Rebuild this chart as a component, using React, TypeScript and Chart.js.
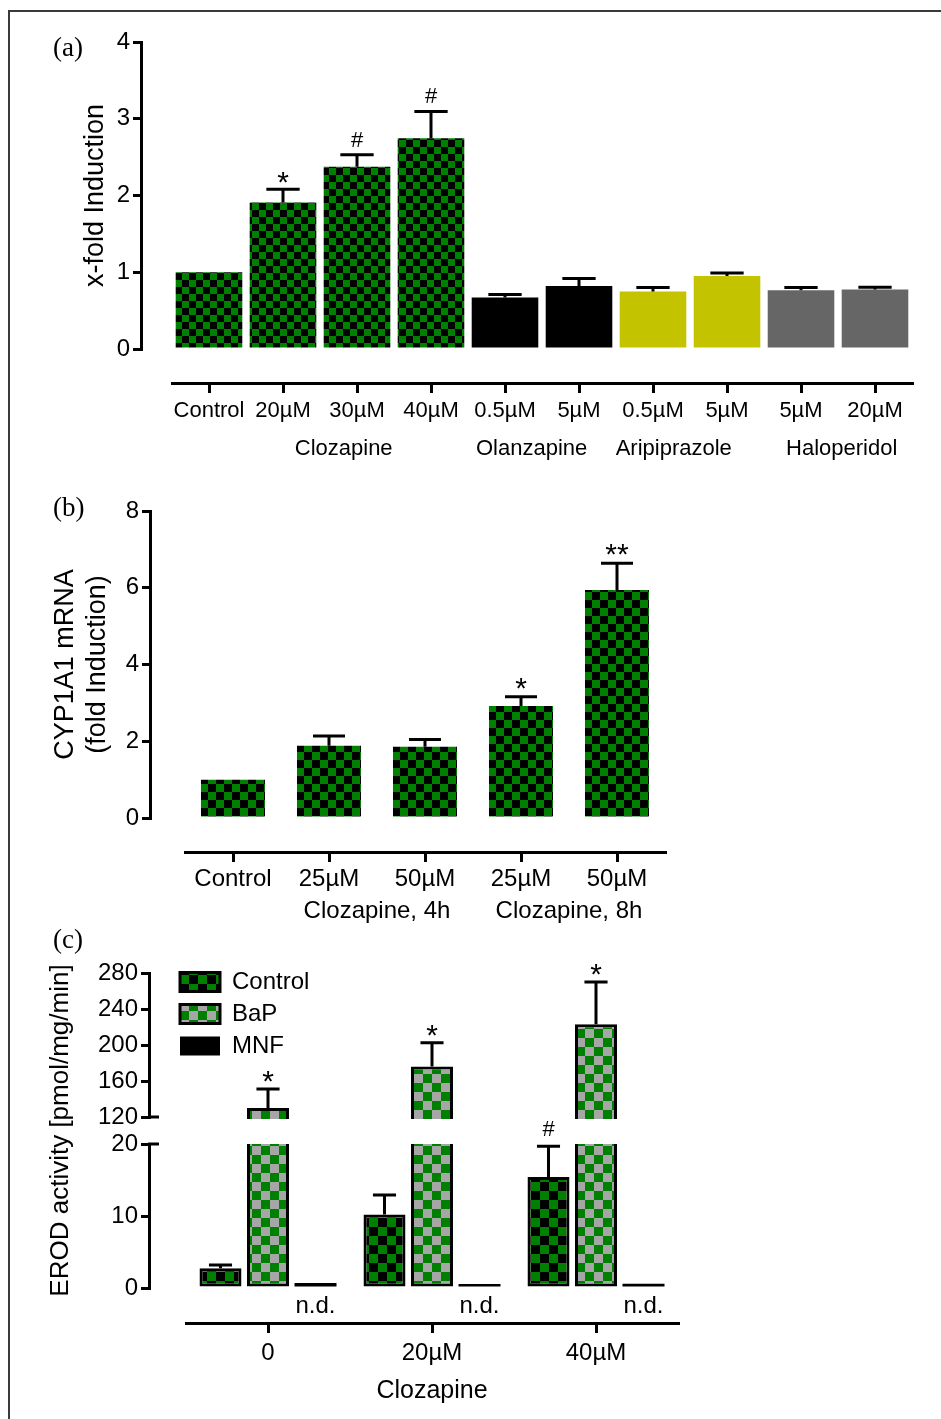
import React, { useEffect, useRef } from 'react';
import { Chart, registerables } from 'chart.js';

Chart.register(...registerables);

const FONT = "'Liberation Sans', Arial, Helvetica, sans-serif";
const BLACK = '#000000';
const GREEN = '#008000';
const OLIVE = '#c3c300';
const GRAY = '#666666';
const LIGHTGRAY = '#a6a6a6';

// ---------- Panel (a) ----------
const aCategories = ['Control', '20µM', '30µM', '40µM', '0.5µM', '5µM', '0.5µM', '5µM', '5µM', '20µM'];
const aValues = [1.0, 1.91, 2.375, 2.745, 0.67, 0.82, 0.75, 0.95, 0.765, 0.775];
const aErrors = [0, 0.17, 0.155, 0.35, 0.04, 0.1, 0.05, 0.04, 0.035, 0.03];
const aMarks = ['', '*', '#', '#', '', '', '', '', '', ''];
const aFillKeys = ['checker', 'checker', 'checker', 'checker', 'black', 'black', 'olive', 'olive', 'gray', 'gray'];
const aGroupLabels = ['Clozapine', 'Olanzapine', 'Aripiprazole', 'Haloperidol'];
const aGroupCenters = [1.82, 4.36, 6.28, 8.55];
const aYTitle = 'x-fold Induction';

// ---------- Panel (b) ----------
const bCategories = ['Control', '25µM', '50µM', '25µM', '50µM'];
const bValues = [1.0, 1.88, 1.855, 2.92, 5.94];
const bErrors = [0, 0.26, 0.19, 0.24, 0.7];
const bMarks = ['', '', '', '*', '**'];
const bGroupLabels = ['Clozapine, 4h', 'Clozapine, 8h'];
const bGroupCenters = [1.5, 3.5];
const bYTitle = ['CYP1A1 mRNA', '(fold Induction)'];

// ---------- Panel (c) ----------
const cCategories = ['0', '20µM', '40µM'];
const cSeries = ['Control', 'BaP', 'MNF'];
const cControl = [2.75, 10.2, 15.4];
const cControlErr = [0.45, 2.7, 4.3];
const cControlMarks = ['', '', '#'];
const cBaP = [130, 176, 223];
const cBaPErr = [21, 26.5, 47];
const cBaPMarks = ['*', '*', '*'];
const cMNF = [0.7, 0.55, 0.6];
const cMNFLabels = ['n.d.', 'n.d.', 'n.d.'];
const cYTitle = 'EROD activity [pmol/mg/min]';
const cXTitle = 'Clozapine';

function checker(back: string, front: string, size: number): CanvasPattern {
  const cv = document.createElement('canvas');
  cv.width = size * 2;
  cv.height = size * 2;
  const g = cv.getContext('2d')!;
  g.fillStyle = back;
  g.fillRect(0, 0, size * 2, size * 2);
  g.fillStyle = front;
  g.fillRect(size, 0, size, size);
  g.fillRect(0, size, size, size);
  return g.createPattern(cv, 'repeat')!;
}

const extrasPlugin: any = {
  id: 'extras',
  beforeDatasetDraw(chart: any, args: any, opts: any) {
    const meta = args.meta;
    const ys = meta.yScale;
    const xs = meta.xScale;
    const ctx = chart.ctx;
    const extra = opts.clipBottom || 0;
    ctx.save();
    ctx.beginPath();
    ctx.rect(xs.left - 2, ys.top, xs.right - xs.left + 4, ys.bottom - ys.top + extra);
    ctx.clip();
  },
  afterDatasetDraw(chart: any) {
    chart.ctx.restore();
  },
  afterLayout(chart: any, _args: any, opts: any) {
    if (opts.legendShift && chart.legend) {
      const lg = chart.legend;
      const w = lg.width;
      const h = lg.height;
      lg.left = chart.chartArea.left + opts.legendShift.x;
      lg.top = chart.chartArea.top + opts.legendShift.y;
      lg.right = lg.left + w;
      lg.bottom = lg.top + h;
    }
  },
  afterDatasetsDraw(chart: any, _args: any, opts: any) {
    const ctx = chart.ctx;
    const capFrac = opts.capFrac;
    ctx.save();
    chart.data.datasets.forEach((ds: any, di: number) => {
      if (!chart.isDatasetVisible(di)) return;
      const meta = chart.getDatasetMeta(di);
      const ys = meta.yScale;
      meta.data.forEach((el: any, i: number) => {
        const v = ds.data[i] as number;
        const x = el.x;
        const w = el.width;
        let topY = ys.getPixelForValue(v);
        const e = ds.errors ? ds.errors[i] : 0;
        if (e) {
          const ey = ys.getPixelForValue(v + e);
          ctx.strokeStyle = BLACK;
          ctx.lineWidth = opts.errWidth;
          ctx.lineCap = 'butt';
          ctx.beginPath();
          ctx.moveTo(x, topY);
          ctx.lineTo(x, ey);
          ctx.moveTo(x - (w * capFrac) / 2, ey);
          ctx.lineTo(x + (w * capFrac) / 2, ey);
          ctx.stroke();
          topY = ey;
        }
        const m = ds.marks ? ds.marks[i] : '';
        if (m) {
          const isHash = m.indexOf('#') >= 0;
          ctx.fillStyle = BLACK;
          ctx.font = `${isHash ? opts.hashSize : opts.starSize}px ${FONT}`;
          ctx.textAlign = 'center';
          ctx.textBaseline = 'alphabetic';
          ctx.fillText(m, x, topY - (isHash ? opts.hashGap : opts.starGap));
        }
        const b = ds.below ? ds.below[i] : '';
        if (b) {
          ctx.fillStyle = BLACK;
          ctx.font = `${opts.belowSize}px ${FONT}`;
          ctx.textAlign = 'center';
          ctx.textBaseline = 'middle';
          ctx.fillText(b, x, ys.bottom + opts.belowOffset);
        }
      });
    });
    if (opts.groupLabels) {
      const xs = chart.scales.x;
      ctx.fillStyle = BLACK;
      ctx.font = `${opts.groupSize}px ${FONT}`;
      ctx.textAlign = 'center';
      ctx.textBaseline = 'middle';
      opts.groupLabels.forEach((t: string, k: number) => {
        ctx.fillText(t, xs.getPixelForValue(opts.groupCenters[k]), xs.top + opts.groupOffset);
      });
    }
    if (opts.breakTicks) {
      ctx.strokeStyle = BLACK;
      ctx.lineWidth = 3;
      opts.breakTicks.forEach((bt: any) => {
        const s = chart.scales[bt.scale];
        const y = s.getPixelForValue(bt.at === 'min' ? s.min : s.max);
        ctx.beginPath();
        ctx.moveTo(s.right - 1, y);
        ctx.lineTo(s.right + opts.breakLen, y);
        ctx.stroke();
      });
    }
    ctx.restore();
  },
};

function hiddenAxis(position: string, weight: number, size: number, extra: any = {}) {
  return {
    type: 'linear',
    axis: position === 'left' ? 'y' : 'x',
    position,
    weight,
    display: true,
    grid: { display: false },
    border: { display: false },
    ticks: { display: false },
    afterFit: (s: any) => {
      if (position === 'left') s.width = size;
      else s.height = size;
    },
    ...extra,
  };
}

function xAxis(height: number, fontSize: number, padding: number, extra: any = {}) {
  return {
    type: 'category',
    axis: 'x',
    position: 'bottom',
    weight: 1,
    offset: true,
    grid: { display: true, drawOnChartArea: false, offset: false, tickLength: 10, lineWidth: 3, color: BLACK },
    border: { display: true, width: 3, color: BLACK },
    ticks: { color: BLACK, font: { size: fontSize, family: FONT }, padding, maxRotation: 0, minRotation: 0, autoSkip: false },
    afterFit: (s: any) => {
      s.height = height;
    },
    ...extra,
  };
}

function yAxis(width: number, min: number, max: number, step: number, fontSize: number, extra: any = {}) {
  return {
    type: 'linear',
    axis: 'y',
    position: 'left',
    weight: 1,
    min,
    max,
    ticks: { stepSize: step, color: BLACK, font: { size: fontSize, family: FONT }, padding: 3, autoSkip: false },
    grid: { display: true, drawOnChartArea: false, tickLength: 8, lineWidth: 3, color: BLACK },
    border: { display: true, width: 3, color: BLACK },
    afterFit: (s: any) => {
      s.width = width;
    },
    ...extra,
  };
}

function configA(): any {
  const fills: Record<string, any> = {
    checker: checker(BLACK, GREEN, 7),
    black: BLACK,
    olive: OLIVE,
    gray: GRAY,
  };
  return {
    type: 'bar',
    data: {
      labels: aCategories,
      datasets: [
        {
          data: aValues,
          backgroundColor: aFillKeys.map((k) => fills[k]),
          borderWidth: 0,
          barPercentage: 0.9,
          categoryPercentage: 1.0,
          xAxisID: 'x',
          yAxisID: 'y',
          errors: aErrors,
          marks: aMarks,
        },
      ],
    },
    options: {
      responsive: false,
      animation: false,
      events: [],
      layout: { padding: { top: 42, right: 29, bottom: 0, left: 0 }, autoPadding: false },
      plugins: {
        legend: { display: false },
        tooltip: { enabled: false },
        extras: {
          capFrac: 0.5,
          errWidth: 3,
          starSize: 30,
          hashSize: 22,
          starGap: -3,
          hashGap: 8,
          groupLabels: aGroupLabels,
          groupCenters: aGroupCenters,
          groupOffset: 66,
          groupSize: 22,
        },
      },
      scales: {
        x: xAxis(87, 22, 5),
        xGap: hiddenAxis('bottom', 0, 34),
        y: yAxis(141, 0, 4, 1, 24, {
          title: { display: true, text: aYTitle, color: BLACK, font: { size: 27, family: FONT }, padding: { top: 79, bottom: 0 } },
        }),
        yGap: hiddenAxis('left', 0, 31),
      },
    },
    plugins: [extrasPlugin],
  };
}

function configB(): any {
  const pat = checker(BLACK, GREEN, 8);
  return {
    type: 'bar',
    data: {
      labels: bCategories,
      datasets: [
        {
          data: bValues,
          backgroundColor: pat,
          borderWidth: 0,
          barPercentage: 0.667,
          categoryPercentage: 1.0,
          xAxisID: 'x',
          yAxisID: 'y',
          errors: bErrors,
          marks: bMarks,
        },
      ],
    },
    options: {
      responsive: false,
      animation: false,
      events: [],
      layout: { padding: { top: 31, right: 276, bottom: 0, left: 0 }, autoPadding: false },
      plugins: {
        legend: { display: false },
        tooltip: { enabled: false },
        extras: {
          capFrac: 0.5,
          errWidth: 3,
          starSize: 30,
          hashSize: 22,
          starGap: -1,
          hashGap: 9,
          groupLabels: bGroupLabels,
          groupCenters: bGroupCenters,
          groupOffset: 59,
          groupSize: 24,
        },
      },
      scales: {
        x: xAxis(88, 24, 3),
        xGap: hiddenAxis('bottom', 0, 34),
        y: yAxis(150, 0, 8, 2, 24, {
          title: { display: true, text: bYTitle, color: BLACK, font: { size: 27, family: FONT, lineHeight: 1.2 }, padding: { top: 49, bottom: 0 } },
        }),
        yGap: hiddenAxis('left', 0, 35),
      },
    },
    plugins: [extrasPlugin],
  };
}

function configC(): any {
  const ctrlPat = checker(BLACK, GREEN, 9);
  const bapPat = checker(LIGHTGRAY, GREEN, 9);
  const common = {
    borderColor: BLACK,
    borderWidth: 3,
    borderSkipped: false,
    barPercentage: 0.884,
    categoryPercentage: 0.869,
    xAxisID: 'x',
    clip: { left: 2, right: 2, top: 0, bottom: 2 },
  };
  return {
    type: 'bar',
    data: {
      labels: cCategories,
      datasets: [
        { ...common, label: cSeries[0], data: cControl, backgroundColor: ctrlPat, yAxisID: 'yBot', stack: 's0', errors: cControlErr, marks: cControlMarks },
        { ...common, label: cSeries[1], data: cBaP, backgroundColor: bapPat, yAxisID: 'yBot', stack: 's1' },
        { ...common, label: cSeries[2], data: cMNF, backgroundColor: BLACK, borderWidth: 0, yAxisID: 'yBot', stack: 's2', below: cMNFLabels },
        { ...common, label: cSeries[1], data: cBaP, backgroundColor: bapPat, yAxisID: 'yTop', stack: 's1', errors: cBaPErr, marks: cBaPMarks, hideInLegend: true },
      ],
    },
    options: {
      responsive: false,
      animation: false,
      events: [],
      layout: { padding: { top: 43, right: 263, bottom: 0, left: 0 }, autoPadding: false },
      plugins: {
        legend: {
          display: true,
          position: 'chartArea',
          align: 'start',
          labels: {
            boxWidth: 40,
            boxHeight: 19,
            padding: 8,
            color: BLACK,
            font: { size: 24, family: FONT },
            filter: (item: any, data: any) => !data.datasets[item.datasetIndex].hideInLegend,
          },
        },
        tooltip: { enabled: false },
        extras: {
          capFrac: 0.55,
          errWidth: 3,
          starSize: 30,
          hashSize: 22,
          starGap: -2,
          hashGap: 10,
          belowSize: 24,
          belowOffset: 18,
          clipBottom: 2,
          breakTicks: [
            { scale: 'yTop', at: 'min' },
            { scale: 'yBot', at: 'max' },
          ],
          breakLen: 10,
          legendShift: { x: -14, y: -11 },
        },
      },
      scales: {
        x: xAxis(96, 24, 6, {
          title: { display: true, text: cXTitle, color: BLACK, font: { size: 25, family: FONT }, padding: { top: 0, bottom: 13 } },
        }),
        xGap: hiddenAxis('bottom', 0, 35),
        yTop: yAxis(149, 120, 280, 40, 24, { weight: 3, stack: 'c', stackWeight: 144 }),
        yBrk: hiddenAxis('left', 2, 149, {
          stack: 'c',
          stackWeight: 27,
          title: { display: true, text: cYTitle, color: BLACK, font: { size: 26, family: FONT }, padding: { top: 45, bottom: 0 } },
        }),
        yBot: yAxis(149, 0, 20, 10, 24, { weight: 1, stack: 'c', stackWeight: 144 }),
        yGap: hiddenAxis('left', 0, 37),
      },
    },
    plugins: [extrasPlugin],
  };
}

const panelLabel: React.CSSProperties = {
  position: 'absolute',
  left: 53,
  fontFamily: "'Liberation Serif', 'Times New Roman', serif",
  fontSize: 27,
  lineHeight: '27px',
  color: '#000',
};

export default function App() {
  const aRef = useRef<HTMLCanvasElement>(null);
  const bRef = useRef<HTMLCanvasElement>(null);
  const cRef = useRef<HTMLCanvasElement>(null);

  useEffect(() => {
    Chart.defaults.font.family = FONT;
    Chart.defaults.color = BLACK;
    const charts = [
      new Chart(aRef.current!, configA()),
      new Chart(bRef.current!, configB()),
      new Chart(cRef.current!, configC()),
    ];
    return () => charts.forEach((c) => c.destroy());
  }, []);

  return (
    <div style={{ position: 'absolute', left: 0, top: 0, width: 941, height: 1419, background: '#fff', overflow: 'hidden' }}>
      <div style={{ position: 'absolute', left: 8, top: 10, width: 940, height: 1420, borderTop: '2px solid #3a3a3a', borderLeft: '2px solid #3a3a3a' }} />
      <canvas ref={aRef} width={941} height={470} style={{ position: 'absolute', left: 0, top: 0, width: 941, height: 470 }} />
      <canvas ref={bRef} width={941} height={460} style={{ position: 'absolute', left: 0, top: 480, width: 941, height: 460 }} />
      <canvas ref={cRef} width={941} height={489} style={{ position: 'absolute', left: 0, top: 930, width: 941, height: 489 }} />
      <span style={{ ...panelLabel, top: 34 }}>(a)</span>
      <span style={{ ...panelLabel, top: 494 }}>(b)</span>
      <span style={{ ...panelLabel, top: 926 }}>(c)</span>
    </div>
  );
}
